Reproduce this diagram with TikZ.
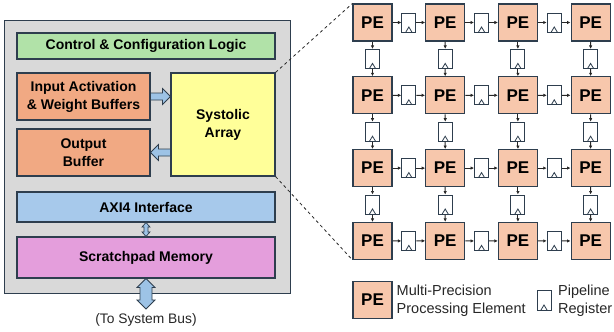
\documentclass[tikz,border=0pt]{standalone}
\usepackage{fontspec}
\setmainfont{Liberation Sans}
\usetikzlibrary{arrows.meta,calc}
\definecolor{bgc}{HTML}{D9D9D9}
\definecolor{edgec}{HTML}{2E3E4E}
\definecolor{ctrlc}{HTML}{B1E2A8}
\definecolor{bufc}{HTML}{F1A983}
\definecolor{sysc}{HTML}{FFFF99}
\definecolor{axic}{HTML}{A7C9EB}
\definecolor{scrc}{HTML}{E49EDC}
\definecolor{pec}{HTML}{F7C7AC}
\definecolor{arrc}{HTML}{9DC3E6}
\begin{document}
\begin{tikzpicture}[x=1pt,y=-1pt,
  blk/.style={draw=edgec, line width=1.1pt, inner sep=0pt, align=center,
    font=\bfseries\fontsize{14}{18}\selectfont},
  pe/.style={draw=edgec, fill=pec, line width=1.1pt, inner sep=0pt,
    minimum width=39pt, minimum height=37pt, font=\bfseries\fontsize{17}{18}\selectfont},
  reg/.style={draw=edgec, fill=white, line width=1pt, inner sep=0pt,
    minimum width=14pt, minimum height=19pt,
    path picture={\draw[edgec, line width=0.8pt]
      ([xshift=-3pt]path picture bounding box.south) --
      ([yshift=5pt]path picture bounding box.south) --
      ([xshift=3pt]path picture bounding box.south);}},
  conn/.style={draw=black!85, line width=1pt, -{Latex[length=3.5pt,width=3.5pt]}},
  barr/.style={draw=edgec, fill=arrc, line width=0.8pt, line join=miter},
  legtxt/.style={anchor=west, align=left, inner sep=0pt,
    font=\fontsize{14.5}{17.5}\selectfont, text=black!85}
]
\useasboundingbox (0,0) rectangle (614,332);

% left panel
\node[draw=edgec, fill=bgc, line width=1pt, minimum width=286pt, minimum height=273pt,
  inner sep=0pt] (outer) at (147,156.5) {};
\node[blk, fill=ctrlc, minimum width=258pt, minimum height=26pt] (ctrl) at (146,46) {Control \& Configuration Logic};
\node[blk, fill=bufc, minimum width=133pt, minimum height=47pt] (inbuf) at (83.5,96.5) {Input Activation\\\& Weight Buffers};
\node[blk, fill=bufc, minimum width=133pt, minimum height=47pt] (outbuf) at (83.5,152.5) {Output\\Buffer};
\node[blk, fill=sysc, minimum width=104pt, minimum height=103pt] (sys) at (223,124.5) {Systolic\\Array};
\node[blk, fill=axic, minimum width=258pt, minimum height=30pt] (axi) at (146,207) {AXI4 Interface};
\node[blk, fill=scrc, minimum width=258pt, minimum height=41pt] (scr) at (146,257.5) {Scratchpad Memory};
\coordinate (bus) at (146,309);
\node[font=\fontsize{13.8}{16}\selectfont, text=black!85, inner sep=0pt] (bustxt) at (146,320) {(To System Bus)};

% block arrows
\coordinate (ra) at (inbuf.east);
\coordinate (rb) at (inbuf.east -| sys.west);
\draw[barr] ($(ra)+(0,-3.5)$) -- ($(rb)+(-8,-3.5)$) -- ($(rb)+(-8,-8)$) -- (rb)
  -- ($(rb)+(-8,8)$) -- ($(rb)+(-8,3.5)$) -- ($(ra)+(0,3.5)$) -- cycle;
\coordinate (la) at (outbuf.east -| sys.west);
\coordinate (lb) at (outbuf.east);
\draw[barr] ($(la)+(0,-3.5)$) -- ($(lb)+(8,-3.5)$) -- ($(lb)+(8,-8)$) -- (lb)
  -- ($(lb)+(8,8)$) -- ($(lb)+(8,3.5)$) -- ($(la)+(0,3.5)$) -- cycle;
% small double arrow
\coordinate (sa) at (axi.south);
\coordinate (sb) at (scr.north);
\draw[barr, line width=0.7pt] (sa) -- ($(sa)+(4,4.5)$) -- ($(sa)+(2,4.5)$) -- ($(sb)+(2,-4.5)$)
  -- ($(sb)+(4,-4.5)$) -- (sb) -- ($(sb)+(-4,-4.5)$) -- ($(sb)+(-2,-4.5)$)
  -- ($(sa)+(-2,4.5)$) -- ($(sa)+(-4,4.5)$) -- cycle;
% big double arrow
\coordinate (ba) at (scr.south);
\draw[barr] (ba) -- ($(ba)+(9,9)$) -- ($(ba)+(6,9)$) -- ($(bus)+(6,-9)$)
  -- ($(bus)+(9,-9)$) -- (bus) -- ($(bus)+(-9,-9)$) -- ($(bus)+(-6,-9)$)
  -- ($(ba)+(-6,9)$) -- ($(ba)+(-9,9)$) -- cycle;

% PE grid
\foreach \r in {1,...,4}
  \foreach \c in {1,...,4}
    \node[pe] (pe-\r-\c) at ({372.5+72.7*(\c-1)},{22.5+72.8*(\r-1)}) {PE};
\foreach \r in {1,...,4}
  \foreach \c in {1,...,3}{
    \pgfmathtruncatemacro\nc{\c+1}
    \node[reg] (hr-\r-\c) at ($(pe-\r-\c.east)!0.5!(pe-\r-\nc.west)$) {};
    \draw[conn] (pe-\r-\c.east) -- (hr-\r-\c.west);
    \draw[conn] (hr-\r-\c.east) -- (pe-\r-\nc.west);
  }
\foreach \r in {1,...,3}
  \foreach \c in {1,...,4}{
    \pgfmathtruncatemacro\nr{\r+1}
    \node[reg] (vr-\r-\c) at ($(pe-\r-\c.south)!0.5!(pe-\nr-\c.north)$) {};
    \draw[conn] (pe-\r-\c.south) -- (vr-\r-\c.north);
    \draw[conn] (vr-\r-\c.south) -- (pe-\nr-\c.north);
  }

% zoom lines
\draw[dashed, line width=0.8pt, black!85] (sys.north east) -- (pe-1-1.north west);
\draw[dashed, line width=0.8pt, black!85] (sys.south east) -- (pe-4-1.south west);

% legend
\node[pe] (lpe) at (372.5,300) {PE};
\node[legtxt] (lpetxt) at (396.5,300.5) {Multi-Precision\\Processing Element};
\node[reg, minimum height=20pt] (lreg) at (544,300) {};
\node[legtxt] (lregtxt) at (558,300.5) {Pipeline\\Register};
\end{tikzpicture}
\end{document}
